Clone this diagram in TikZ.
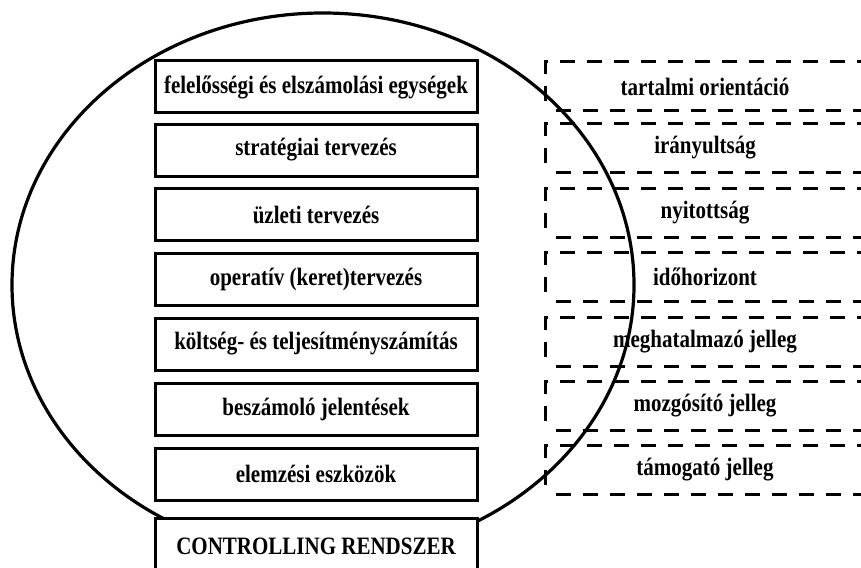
\documentclass[tikz,border=0pt]{standalone}
\usepackage{fontspec}
\setmainfont{Liberation Serif}
\newfontfamily\scanfont{Liberation Serif}[FakeStretch=0.84]
\tikzset{
  tool/.style={draw, line width=3pt, fill=white, minimum width=322pt, minimum height=52pt, inner sep=0pt, font=\scanfont\bfseries\fontsize{25}{28}\selectfont},
  trait/.style={draw, line width=3pt, dash pattern=on 15pt off 12pt, dash phase=16pt, minimum width=320pt, minimum height=49pt, inner sep=0pt, font=\scanfont\bfseries\fontsize{25}{28}\selectfont}
}
\begin{document}
\begin{tikzpicture}[x=1pt, y=-1pt]
                \clip (0,0) rectangle (861,567);
                \fill[white] (0,0) rectangle (861,567);

                % Features (dashed)
                \node[trait] (tartalmi) at (705, 86.5) {tartalmi orientáció};
                \node[trait] (iranyult) at (705, 148) {irányultság};
                \node[trait] (nyitott) at (705, 213) {nyitottság};
                \node[trait] (idohor) at (705, 277) {időhorizont};
                \node[trait] (meghatalm) at (705, 342) {meghatalmazó jelleg};
                \node[trait] (mozgosit) at (705, 406) {mozgósító jelleg};
                \node[trait] (tamogat) at (705, 470) {támogató jelleg};

                % Oval around the system
                \draw[line width=3.2pt] (323,285) ellipse [x radius=311pt, y radius=272pt];

                % Subsystems
                \node[tool] (felelos) at (316, 87) {felelősségi és elszámolási egységek};
                \node[tool] (strateg) at (316, 150) {stratégiai tervezés};
                \node[tool] (uzleti) at (316, 214.5) {üzleti tervezés};
                \node[tool] (operativ) at (316, 279) {operatív (keret)tervezés};
                \node[tool] (koltseg) at (316, 344) {költség- és teljesítményszámítás};
                \node[tool] (beszamolo) at (316, 409) {beszámoló jelentések};
                \node[tool] (elemzes) at (316, 474) {elemzési eszközök};

                % Base
                \node[tool, minimum height=57pt] (controlling) at (316, 546.5) {CONTROLLING RENDSZER};
            \end{tikzpicture}
\end{document}
